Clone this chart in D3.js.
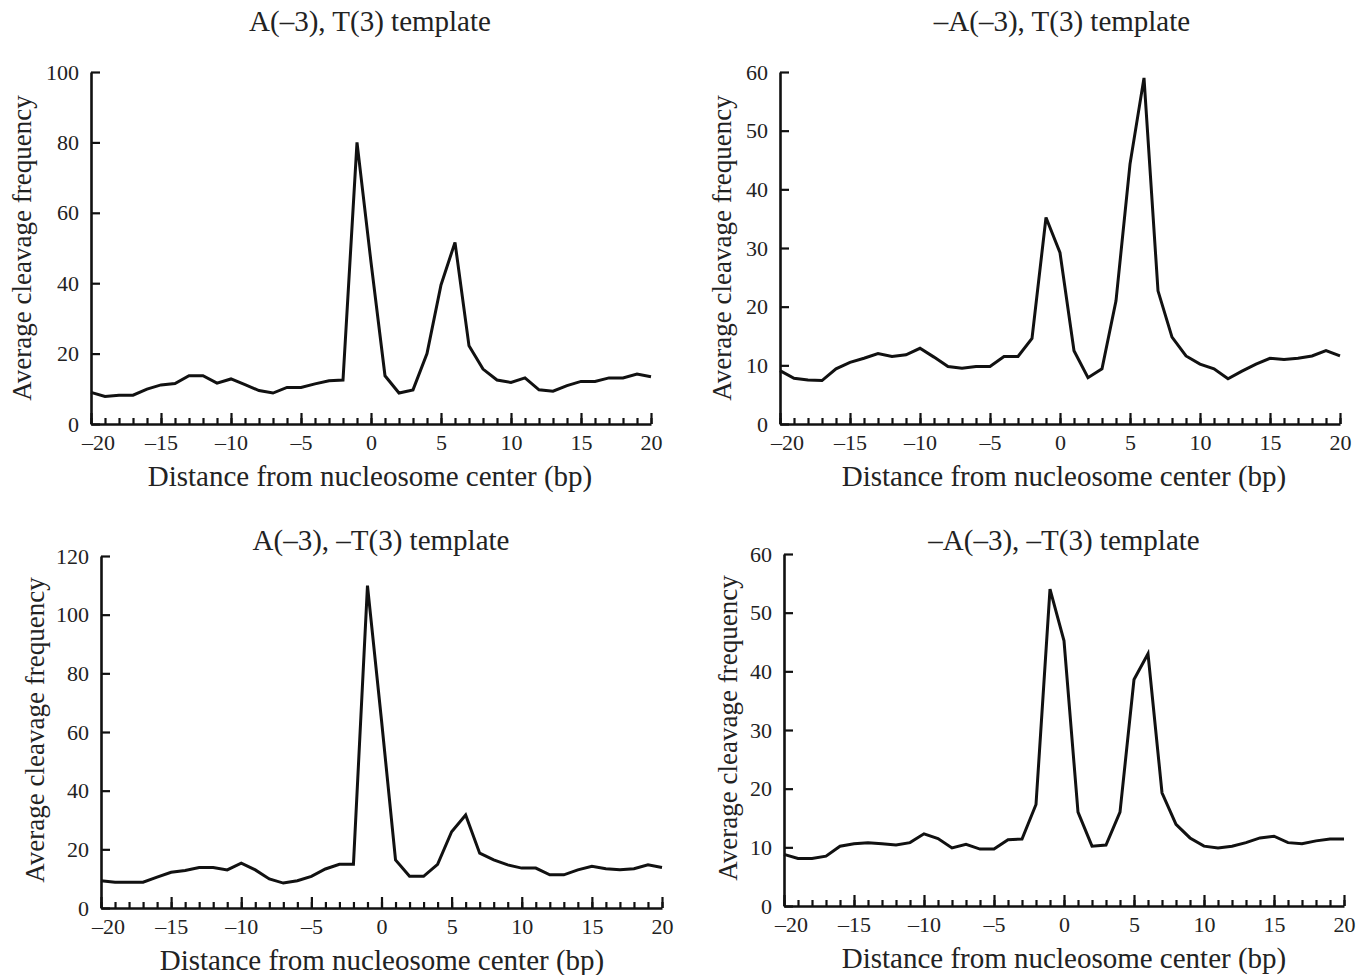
<!DOCTYPE html>
<html>
<head>
<meta charset="utf-8">
<script src="https://cdn.jsdelivr.net/npm/d3@7"></script>
<style>
  body { margin: 0; background: #fff; }
  svg { display: block; font-family: "Liberation Serif", "DejaVu Serif", serif; }
</style>
</head>
<body>
<div id="chart"></div>
<script>
// Distances from nucleosome center (bp)
var positions = d3.range(-20, 21);

// Average cleavage frequency
var freqAT = [9.0, 7.8, 8.2, 8.2, 9.9, 11.1, 11.5, 13.7, 13.7, 11.6, 12.8, 11.2, 9.5, 8.8, 10.4, 10.4, 11.4, 12.3, 12.5, 80,
    46, 13.7, 8.8, 9.7, 20, 39.5, 51.6, 22.2, 15.6, 12.5, 11.8, 13.1, 9.7, 9.3, 10.9, 12.1, 12.1, 13.1, 13.1, 14.2, 13.4];
var freqNoA_T = [9.1, 7.8, 7.5, 7.4, 9.4, 10.5, 11.2, 12.0, 11.5, 11.8, 12.9, 11.4, 9.8, 9.5, 9.8, 9.8, 11.5, 11.5, 14.6, 35.2,
    29.2, 12.5, 7.9, 9.4, 21, 44.3, 59, 22.7, 14.8, 11.6, 10.2, 9.4, 7.7, 9.0, 10.2, 11.2, 11.0, 11.2, 11.6, 12.5, 11.6];
var freqA_NoT = [9.3, 8.8, 8.8, 8.8, 10.5, 12.2, 12.8, 13.8, 13.8, 13.0, 15.3, 13.0, 9.9, 8.5, 9.3, 10.8, 13.3, 14.9, 14.9, 109.9,
    64, 16.4, 10.8, 10.8, 14.9, 26, 31.7, 18.7, 16.4, 14.7, 13.6, 13.6, 11.3, 11.3, 13.0, 14.2, 13.4, 13.0, 13.4, 14.7, 13.8];
var freqNoA_NoT = [8.8, 8.1, 8.1, 8.5, 10.2, 10.6, 10.8, 10.6, 10.4, 10.8, 12.3, 11.5, 9.9, 10.5, 9.7, 9.7, 11.3, 11.4, 17.3, 54,
    45.2, 16.0, 10.2, 10.4, 16.0, 38.6, 43, 19.3, 13.9, 11.6, 10.2, 9.9, 10.2, 10.8, 11.6, 11.9, 10.8, 10.6, 11.1, 11.4, 11.4];

// Panel titles and y-axis tick labels
var titles = ["A(\u20133), T(3) template", "\u2013A(\u20133), T(3) template",
    "A(\u20133), \u2013T(3) template", "\u2013A(\u20133), \u2013T(3) template"];
var yTicksAT = [0, 20, 40, 60, 80, 100];
var yTicksNoA_T = [0, 10, 20, 30, 40, 50, 60];
var yTicksA_NoT = [0, 20, 40, 60, 80, 100, 120];
var yTicksNoA_NoT = [0, 10, 20, 30, 40, 50, 60];
var xMajorTicks = [-20, -15, -10, -5, 0, 5, 10, 15, 20];

var xTitle = "Distance from nucleosome center (bp)",
    yTitle = "Average cleavage frequency";

// en dash for negative numbers, like the printed figure
function dashFormat(d) {
    return d < 0 ? "\u2013" + (-d) : String(d);
}

function drawPanel(svg, box, title, values, yTicks) {
    "use strict";

    var x = d3.scaleLinear().domain([-20, 20]).range([box.left, box.right]),
        y = d3.scaleLinear().domain([0, d3.max(yTicks)]).range([box.bottom, box.top]),
        g = svg.append("g"),
        line = d3.line()
            .x(function (d, i) { return x(positions[i]); })
            .y(function (d) { return y(d); });

    // Minor ticks every bp, pointing inside
    g.append("g")
        .attr("transform", "translate(0," + box.bottom + ")")
        .call(d3.axisBottom(x).tickValues(positions).tickSize(-6).tickSizeOuter(0).tickFormat(""))
        .call(function (a) { a.select(".domain").remove(); });

    // Major ticks with labels
    var xAxis = g.append("g")
        .attr("class", "xaxis")
        .attr("transform", "translate(0," + box.bottom + ")")
        .call(d3.axisBottom(x).tickValues(xMajorTicks).tickSize(-11).tickSizeOuter(0)
            .tickPadding(10).tickFormat(dashFormat));
    // first label sits a little right of its tick, as in the original
    xAxis.selectAll(".tick text").filter(function (d) { return d === -20; }).attr("dx", 7);

    g.append("g")
        .attr("class", "yaxis")
        .attr("transform", "translate(" + box.left + ",0)")
        .call(d3.axisLeft(y).tickValues(yTicks).tickSize(-9).tickSizeOuter(0).tickPadding(12));

    g.selectAll(".domain").attr("stroke", "#111").attr("stroke-width", 2.6);
    g.selectAll(".tick line").attr("stroke", "#111").attr("stroke-width", 2.2);
    g.selectAll(".tick text").attr("fill", "#222").style("font-size", "22px")
        .style("font-family", "'Liberation Serif', serif");

    // Data line
    g.append("path")
        .datum(values)
        .attr("fill", "none")
        .attr("stroke", "#111")
        .attr("stroke-width", 3)
        .attr("stroke-linejoin", "miter")
        .attr("d", line);

    // Panel title
    g.append("text")
        .attr("x", box.titleX)
        .attr("y", box.titleY)
        .attr("text-anchor", "middle")
        .attr("fill", "#222")
        .style("font-size", "29px")
        .text(title);

    // X axis title
    g.append("text")
        .attr("x", box.xTitleX)
        .attr("y", box.bottom + 62)
        .attr("text-anchor", "middle")
        .attr("fill", "#222")
        .style("font-size", "29px")
        .text(xTitle);

    // Y axis title
    g.append("text")
        .attr("transform", "translate(" + box.yTitleX + "," + box.yTitleY + ") rotate(-90)")
        .attr("text-anchor", "middle")
        .attr("fill", "#222")
        .style("font-size", "27px")
        .text(yTitle);
}

var svg = d3.select("#chart").append("svg")
    .attr("width", 1368)
    .attr("height", 975);

var boxes = [
    {left: 91, right: 651, top: 72, bottom: 424, titleX: 370, titleY: 31, xTitleX: 370, yTitleX: 31, yTitleY: 248},
    {left: 780, right: 1340, top: 72, bottom: 424, titleX: 1062, titleY: 31, xTitleX: 1064, yTitleX: 731, yTitleY: 248},
    {left: 101, right: 662, top: 556, bottom: 908, titleX: 381, titleY: 550, xTitleX: 382, yTitleX: 44, yTitleY: 730},
    {left: 784, right: 1344, top: 554, bottom: 906, titleX: 1064, titleY: 550, xTitleX: 1064, yTitleX: 737, yTitleY: 728}
];

drawPanel(svg, boxes[0], titles[0], freqAT, yTicksAT);
drawPanel(svg, boxes[1], titles[1], freqNoA_T, yTicksNoA_T);
drawPanel(svg, boxes[2], titles[2], freqA_NoT, yTicksA_NoT);
drawPanel(svg, boxes[3], titles[3], freqNoA_NoT, yTicksNoA_NoT);
</script>
</body>
</html>
